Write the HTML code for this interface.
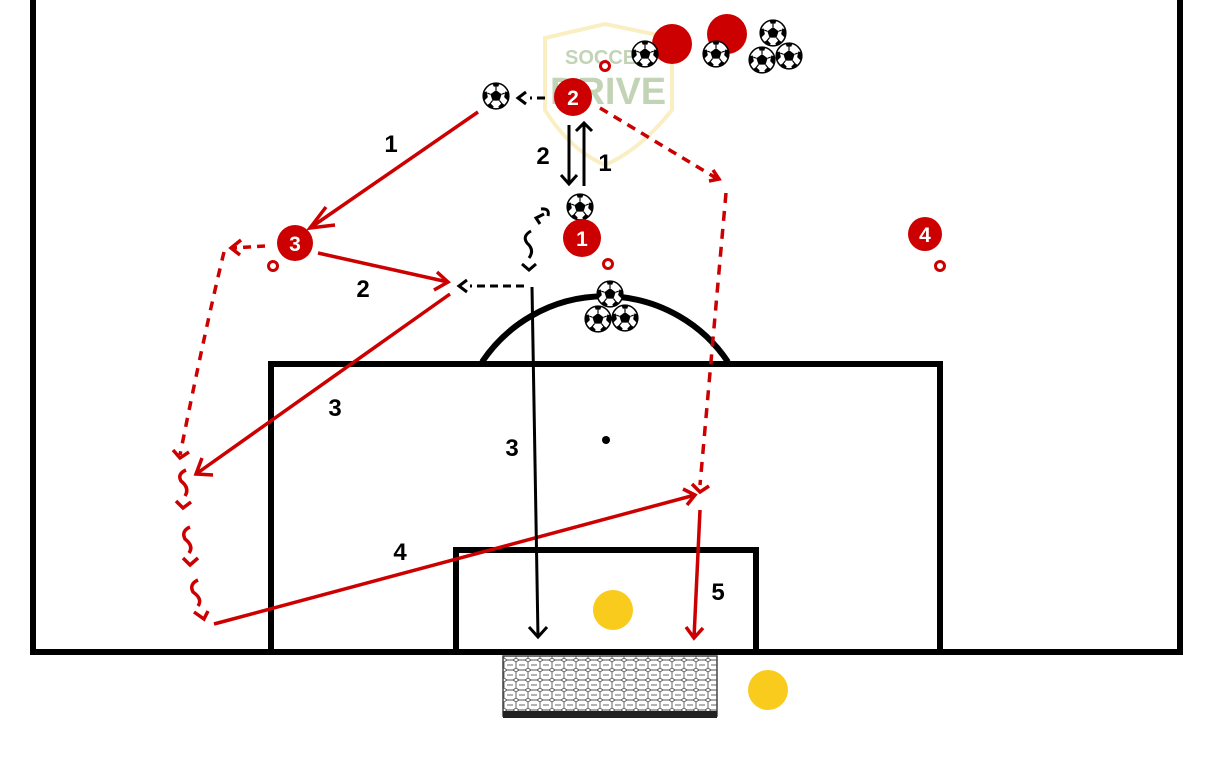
<!DOCTYPE html>
<html><head><meta charset="utf-8"><style>
html,body{margin:0;padding:0;background:#fff;width:1215px;height:759px;overflow:hidden}
svg{display:block}
text{font-family:"Liberation Sans",sans-serif;font-weight:bold}
</style></head><body>
<svg width="1215" height="759" viewBox="0 0 1215 759" xmlns="http://www.w3.org/2000/svg">
<defs>
<symbol id="ball" viewBox="-12 -12 24 24">
<circle r="11" fill="#fff" stroke="#000" stroke-width="1.3"/>
<polygon points="0,-5 4.8,-1.5 3,4 -3,4 -4.8,-1.5" fill="#000"/>
<path d="M-3,-11 L3,-11 L2,-8 L-2,-8Z M11,-3 L8,-4 L7,1 L10,4Z M8,8 L5,6 L2,9 L3,11Z M-8,8 L-5,6 L-2,9 L-3,11Z M-11,-3 L-8,-4 L-7,1 L-10,4Z" fill="#000"/>
<path d="M0,-5 V-8 M4.8,-1.5 L7.5,-2.5 M3,4 L5,6.5 M-3,4 L-5,6.5 M-4.8,-1.5 L-7.5,-2.5" stroke="#000" stroke-width="1"/>
</symbol>
<pattern id="net" width="12" height="10" patternUnits="userSpaceOnUse">
<rect width="12" height="10" fill="#fff"/>
<path d="M0,2 L3,0 M3,0 L9,0 M9,0 L12,2 M0,2 V8 M12,2 V8 M0,8 L3,10 M12,8 L9,10 M3,10 H9" stroke="#555" stroke-width="0.9" fill="none"/>
<path d="M3,5 H9" stroke="#555" stroke-width="0.9"/>
</pattern>
</defs>

<!-- faint logo -->
<g opacity="0.45">
<path d="M545,38 L605,24 L672,38 L672,110 Q640,150 605,165 Q570,150 545,110 Z" fill="none" stroke="#f3dc7c" stroke-width="4"/>
<text x="565" y="64" font-size="20" fill="#7aa060">SOCCER</text>
<text x="550" y="104" font-size="38" fill="#7aa060">DRIVE</text>
</g>

<!-- field -->
<g fill="none" stroke="#000" stroke-width="6">
<path d="M33,0 V652 H1183 M1180,0 V652"/>
<path d="M271,652 V364 H940 V652"/>
<path d="M456,652 V550 H756 V652"/>
<path d="M482,362 A148,148 0 0 1 728,362"/>
</g>
<circle cx="606" cy="440" r="4" fill="#000"/>

<!-- net -->
<rect x="503" y="656" width="214" height="60" fill="url(#net)" stroke="#444" stroke-width="1.5"/>
<rect x="503" y="711" width="214" height="7" fill="#222"/>

<!-- yellow -->
<circle cx="613" cy="610" r="20" fill="#f8cb1c"/>
<circle cx="768" cy="690" r="20" fill="#f8cb1c"/>

<!-- red solid runs -->
<g stroke="#cc0000" stroke-width="3.5" fill="none" stroke-linecap="butt">
<line x1="478" y1="112" x2="310" y2="228"/>
<path d="M326,207 L310,228 L335,225"/>
<line x1="318" y1="253" x2="448" y2="282"/>
<path d="M437,272 L448,282 L434,290"/>
<line x1="450" y1="294" x2="196" y2="474"/>
<path d="M202,458 L196,474 L213,475"/>
<line x1="214" y1="624" x2="695" y2="495"/>
<path d="M683,489 L695,495 L687,505"/>
<line x1="700" y1="510" x2="694" y2="638"/>
<path d="M686,627 L694,638 L703,628"/>
</g>

<!-- red dashed -->
<g stroke="#cc0000" stroke-width="3.5" fill="none">
<path d="M265,246 L234,248" stroke-dasharray="8,6"/>
<path d="M241,240 L231,248 L240,255"/>
<path d="M224,252 Q205,330 180,455" stroke-dasharray="9,8"/>
<path d="M173,450 L180,458 L189,452"/>
<path d="M600,108 L716,178" stroke-dasharray="9,7"/>
<path d="M713,170 L719,179 L709,181"/>
<path d="M726,193 L700,485" stroke-dasharray="10,8"/>
<path d="M692,484 L700,492 L709,486"/>
<path d="M186,470 Q177,474 181,481 Q190,488 185,496"/>
<path d="M176,501 L183,508 L191,502"/>
<path d="M190,527 Q181,531 185,539 Q194,546 189,553"/>
<path d="M183,558 L190,565 L198,558"/>
<path d="M198,580 Q189,584 193,592 Q203,599 198,606"/>
<path d="M194,612 L204,619 L208,611"/>
</g>

<!-- black runs -->
<g stroke="#000" stroke-width="3" fill="none">
<path d="M545,98 L530,98" stroke-dasharray="8,5"/>
<path d="M526,92 L518,98 L526,104"/>
<line x1="569" y1="125" x2="569" y2="184"/>
<path d="M561,175 L569,184 L577,175"/>
<line x1="584" y1="186" x2="584" y2="123"/>
<path d="M576,131 L584,123 L592,131"/>
<path d="M548,216 Q550,208 541,209"/>
<path d="M544,214 L536,218 L540,224"/>
<path d="M531,231 Q522,236 527,243 Q535,250 529,258"/>
<path d="M522,264 L529,270 L536,264"/>
<path d="M524,286 L470,286" stroke-dasharray="8,5"/>
<path d="M467,280 L459,286 L467,292"/>
<line x1="532" y1="287" x2="538" y2="637"/>
<path d="M529,627 L538,637 L547,627"/>
</g>

<!-- balls -->
<circle cx="672" cy="44" r="20" fill="#cc0000"/>
<use href="#ball" x="631" y="40" width="28" height="28"/>
<circle cx="727" cy="34" r="20" fill="#cc0000"/>
<use href="#ball" x="702" y="40" width="28" height="28"/>
<use href="#ball" x="759" y="19" width="28" height="28"/>
<use href="#ball" x="748" y="46" width="28" height="28"/>
<use href="#ball" x="775" y="42" width="28" height="28"/>
<use href="#ball" x="482" y="82" width="28" height="28"/>
<use href="#ball" x="566" y="193" width="28" height="28"/>
<use href="#ball" x="596" y="280" width="28" height="28"/>
<use href="#ball" x="584" y="305" width="28" height="28"/>
<use href="#ball" x="611" y="304" width="28" height="28"/>

<!-- players -->
<g fill="#cc0000">
<circle cx="573" cy="97" r="19"/>
<circle cx="582" cy="238" r="19"/>
<circle cx="295" cy="243" r="18"/>
<circle cx="925" cy="234" r="17"/>
</g>
<g fill="none" stroke="#cc0000" stroke-width="3">
<circle cx="605" cy="66" r="4.5"/>
<circle cx="608" cy="264" r="4.5"/>
<circle cx="273" cy="266" r="4.5"/>
<circle cx="940" cy="266" r="4.5"/>
</g>
<g fill="#fff" font-size="21" text-anchor="middle">
<text x="573" y="105">2</text>
<text x="582" y="246">1</text>
<text x="295" y="251">3</text>
<text x="925" y="242">4</text>
</g>

<!-- labels -->
<g fill="#000" font-size="24" text-anchor="middle">
<text x="391" y="152">1</text>
<text x="543" y="164">2</text>
<text x="605" y="171">1</text>
<text x="363" y="297">2</text>
<text x="335" y="416">3</text>
<text x="512" y="456">3</text>
<text x="400" y="560">4</text>
<text x="718" y="600">5</text>
</g>
</svg>
</body></html>
